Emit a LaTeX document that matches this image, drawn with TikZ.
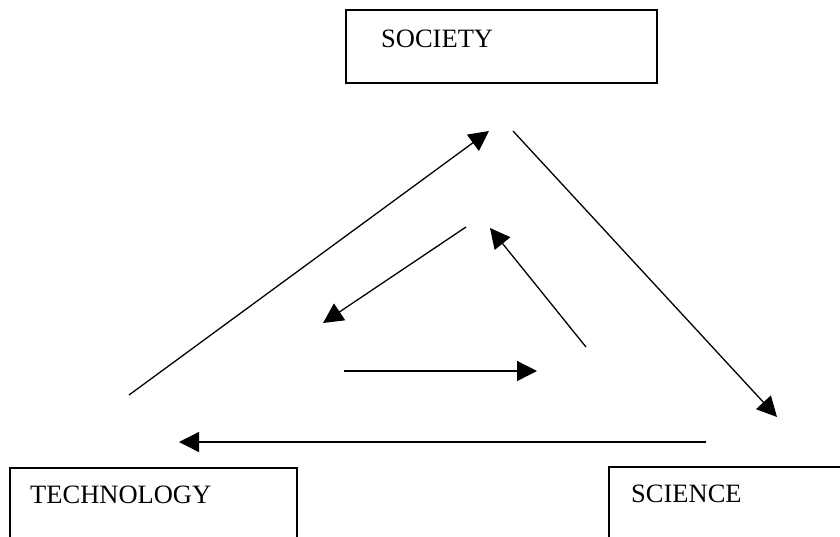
\documentclass[tikz,border=0pt]{standalone}
\usepackage{fontspec}
\setmainfont{Liberation Serif}
\usetikzlibrary{arrows.meta}
\begin{document}
\begin{tikzpicture}[x=1pt,y=1pt,
  box/.style={draw=black, line width=1.6pt},
  lbl/.style={anchor=base west, inner sep=0pt, font=\fontsize{26.5}{30}\selectfont},
  arr/.style={draw=black, line width=1.3pt, -{Triangle[length=20pt,width=20pt]}}]
\useasboundingbox (0,0) rectangle (840,-536);
\clip (0,0) rectangle (840,-536);
\fill[white] (0,0) rectangle (840,-536);
% boxes
\draw[box] (346,-10) rectangle (657,-83);
\draw[box] (10,-468) rectangle (297,-560);
\draw[box] (609,-467) rectangle (860,-560);
\node[lbl] (soc) at (381,-47) {SOCIETY};
\node[lbl] (tech) at (30,-503) {TECHNOLOGY};
\node[lbl] (sci) at (631,-502) {SCIENCE};
% arrow end points
\coordinate (a1s) at (129,-395); \coordinate (a1e) at (489,-131);
\coordinate (a2s) at (513,-131); \coordinate (a2e) at (777,-417);
\coordinate (a3s) at (706,-442); \coordinate (a3e) at (179,-442);
\coordinate (b1s) at (466,-227); \coordinate (b1e) at (323,-323);
\coordinate (b2s) at (586,-347); \coordinate (b2e) at (490,-228);
\coordinate (b3s) at (344,-371); \coordinate (b3e) at (537,-371);
\draw[arr] (a1s) -- (a1e);
\draw[arr] (a2s) -- (a2e);
\draw[arr] (a3s) -- (a3e);
\draw[arr] (b1s) -- (b1e);
\draw[arr] (b2s) -- (b2e);
\draw[arr] (b3s) -- (b3e);
\end{tikzpicture}
\end{document}
